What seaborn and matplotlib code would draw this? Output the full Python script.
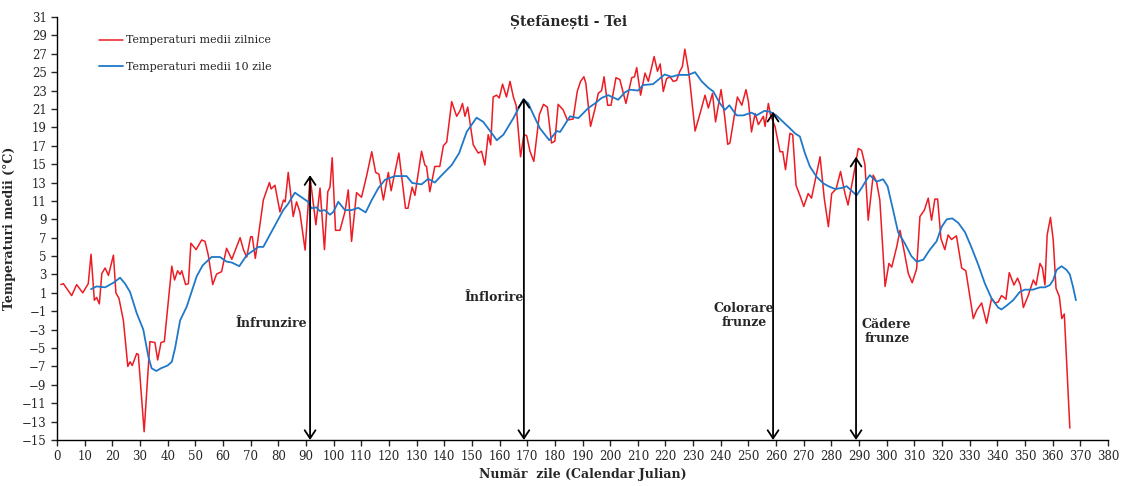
import pandas as pd
import matplotlib.pyplot as plt
import seaborn as sns

# Temperaturi medii zilnice (zi, °C)
zile_zilnic = [1.4, 2.3, 5.3, 7.1, 9.3, 11.3, 12.3, 13.5, 14.3, 15.3, 16.2, 17.4, 18.6, 20.4, 21.3,
               22.4, 24.0, 25.6, 26.4, 27.2, 28.8, 29.4, 31.5, 33.6, 35.4, 36.4, 37.6, 38.8, 41.5,
               42.5, 43.6, 44.5, 45.1, 46.5, 47.5, 48.4, 50.3, 52.3, 53.5, 54.7, 56.3, 57.7, 59.5,
               61.3, 63.2, 66.2, 67.4, 68.6, 70.0, 70.6, 71.7, 74.6, 76.8, 77.4, 78.8, 80.6, 81.9,
               82.5, 83.6, 85.4, 86.6, 87.8, 89.7, 91.5, 93.6, 95.1, 96.7, 97.9, 98.7, 99.5, 100.7,
               102.3, 104.1, 105.3, 106.5, 108.3, 110.1, 112.0, 113.8, 115.2, 116.4, 118.0, 119.8,
               120.8, 123.6, 126.0, 126.9, 128.4, 129.4, 131.8, 133.0, 133.6, 134.8, 136.6, 138.4,
               139.7, 140.9, 142.7, 144.5, 145.7, 146.6, 147.5, 148.5, 150.5, 152.3, 153.5, 154.7,
               155.9, 156.8, 157.7, 158.9, 159.9, 161.1, 162.5, 163.8, 165.0, 166.0, 167.6, 168.8,
               169.8, 171.0, 172.4, 174.4, 175.9, 177.3, 178.8, 180.0, 181.2, 183.0, 184.5, 186.6,
               188.1, 189.3, 190.5, 191.2, 192.9, 194.5, 195.7, 196.9, 197.8, 199.1, 200.3, 202.1,
               203.5, 205.7, 207.8, 208.8, 209.6, 211.0, 212.6, 213.8, 215.9, 217.1, 218.1, 219.2,
               220.4, 221.6, 222.8, 224.0, 225.2, 226.1, 227.0, 228.2, 228.8, 230.7, 232.5, 234.3,
               235.5, 237.0, 238.1, 240.1, 241.4, 242.5, 243.3, 244.5, 246.0, 247.6, 249.1, 250.0,
               251.1, 252.4, 253.6, 255.4, 256.0, 257.2, 258.0, 259.6, 261.4, 262.4, 263.4, 265.0,
               266.0, 267.2, 268.6, 270.0, 271.6, 272.8, 274.4, 275.9, 277.4, 278.9, 280.1, 281.7,
               283.3, 284.9, 286.0, 287.9, 289.7, 290.9, 292.1, 293.3, 295.1, 296.3, 297.5, 299.4,
               300.8, 301.8, 303.6, 304.8, 306.0, 307.8, 309.2, 310.8, 312.0, 313.6, 315.0, 316.2,
               317.4, 318.4, 319.6, 321.0, 322.2, 323.4, 325.2, 327.1, 328.6, 331.3, 332.5, 334.3,
               336.1, 337.9, 339.1, 340.3, 341.5, 342.4, 343.1, 344.3, 346.0, 347.3, 348.3, 349.4,
               351.2, 353.0, 354.0, 355.4, 356.3, 357.2, 358.0, 359.2, 360.2, 361.2, 362.4, 363.3,
               364.2, 366.2]
temp_zilnic = [1.9, 2.0, 0.7, 1.9, 1.0, 2.0, 5.2, 0.2, 0.5, -0.2, 3.1, 3.7, 2.9, 5.1, 1.0,
               0.4, -2.0, -7.0, -6.5, -6.9, -5.6, -5.7, -14.1, -4.3, -4.4, -6.3, -4.4, -4.3, 3.9,
               2.4, 3.4, 3.0, 3.4, 1.9, 2.0, 6.4, 5.7, 6.75, 6.6, 5.1, 1.9, 3.05, 3.3,
               5.85, 4.65, 7.0, 5.7, 4.9, 7.1, 7.1, 4.75, 11.1, 13.0, 12.3, 12.7, 9.8, 11.1,
               10.9, 14.1, 9.3, 10.9, 9.8, 5.65, 13.6, 8.4, 12.4, 5.7, 12.0, 12.5, 15.7, 7.8,
               7.8, 9.8, 12.2, 6.6, 11.9, 11.4, 13.8, 16.35, 14.1, 13.9, 11.1, 14.1,
               12.1, 16.2, 10.2, 10.2, 12.5, 11.6, 16.4, 14.9, 14.75, 12.0, 14.75, 14.75,
               17.0, 17.4, 21.8, 20.2, 20.8, 21.6, 20.2, 21.2, 17.1, 16.2, 16.4, 14.9,
               18.2, 17.1, 22.3, 22.5, 22.2, 23.7, 22.3, 24.0, 22.3, 21.4, 15.8, 18.2,
               18.1, 16.4, 15.3, 20.4, 21.5, 21.2, 17.3, 17.5, 21.5, 20.9, 19.8, 19.9,
               22.9, 24.0, 24.5, 23.8, 19.1, 21.0, 22.7, 23.0, 24.5, 21.4, 21.4, 24.4,
               24.2, 21.6, 24.4, 24.5, 25.5, 22.5, 24.9, 24.0, 26.7, 25.1, 25.9, 22.9,
               24.3, 24.5, 24.0, 24.1, 25.1, 25.6, 27.5, 25.4, 24.0, 18.6, 20.5, 22.5,
               21.1, 22.7, 19.6, 23.1, 20.2, 17.15, 17.3, 19.5, 22.3, 21.4, 23.1, 21.8,
               18.5, 20.5, 19.3, 20.2, 19.1, 21.6, 20.3, 19.1, 16.35, 16.35, 14.4, 18.35,
               18.2, 12.7, 11.6, 10.4, 11.8, 11.3, 13.6, 15.8, 11.3, 8.2, 11.8, 12.3,
               14.2, 11.8, 10.55, 13.6, 16.7, 16.5, 15.0, 8.9, 13.8, 13.1, 11.1, 1.7,
               4.2, 3.8, 6.0, 7.8, 6.0, 3.1, 2.1, 3.6, 9.3, 10.0, 11.3, 8.9,
               11.2, 11.2, 6.9, 5.7, 7.3, 6.8, 7.2, 3.7, 3.4, -1.8, -0.9, -0.1,
               -2.3, 0.4, -0.1, 0.0, 0.7, 0.5, 0.3, 3.2, 1.85, 2.6, 1.85, -0.6,
               0.75, 2.4, 1.85, 4.2, 3.7, 1.85, 7.3, 9.2, 6.75, 1.5, 0.6, -1.8,
               -1.3, -13.7]

# Temperaturi medii pe 10 zile
zile_10 = [12.3, 14.3, 17.4, 20.4, 22.8, 24.6, 26.4, 28.8, 31.2, 33.0, 34.2, 35.9, 37.6, 40.0,
           41.5, 42.7, 44.5, 46.9, 48.1, 50.5, 52.7, 55.9, 58.9, 61.3, 63.2, 65.9, 68.6, 72.8,
           74.6, 78.2, 81.8, 83.6, 86.0, 88.4, 90.8, 92.0, 93.8, 95.0, 96.8, 98.7, 99.9, 101.7,
           104.1, 106.5, 108.9, 111.6, 113.8, 116.2, 118.6, 122.2, 126.4, 128.4, 131.8, 134.2,
           136.6, 139.1, 142.7, 145.4, 148.1, 151.7, 154.1, 157.1, 159.0, 161.4, 165.0, 168.6,
           170.4, 172.2, 174.6, 178.0, 180.7, 181.9, 185.5, 188.5, 192.1, 194.5, 196.9, 199.3,
           202.9, 205.3, 207.1, 210.1, 211.9, 215.5, 217.9, 219.7, 222.2, 224.6, 228.2, 230.7,
           233.1, 235.5, 237.3, 239.7, 241.5, 243.1, 245.7, 248.1, 251.1, 252.9, 255.8, 257.7,
           260.1, 262.5, 265.0, 266.8, 268.6, 270.4, 272.2, 274.7, 277.1, 278.9, 281.3, 283.7,
           285.5, 287.3, 289.1, 290.9, 292.7, 293.9, 296.3, 298.7, 300.3, 302.3, 304.1, 306.5,
           308.9, 310.8, 313.2, 315.6, 318.0, 319.9, 321.7, 323.7, 325.9, 328.3, 330.7, 333.1,
           335.5, 337.9, 340.3, 341.5, 343.3, 345.7, 348.1, 349.9, 352.9, 355.4, 357.2, 359.0,
           360.2, 361.4, 363.2, 365.0, 366.2, 367.4, 368.4]
temp_10 = [1.4, 1.7, 1.6, 2.1, 2.65, 2.0, 1.1, -1.2, -3.0, -5.9, -7.2, -7.5, -7.2, -6.9,
           -6.5, -5.0, -2.0, -0.5, 0.6, 2.8, 4.0, 4.9, 4.9, 4.4, 4.3, 3.9, 5.1, 6.0,
           6.0, 8.0, 10.0, 10.7, 11.9, 11.4, 10.9, 10.2, 10.3, 9.9, 10.0, 9.5, 9.8, 10.9,
           10.0, 10.0, 10.25, 9.75, 11.1, 12.4, 13.3, 13.7, 13.7, 12.95, 12.8, 13.4,
           13.0, 13.8, 14.9, 16.2, 18.5, 20.05, 19.6, 18.4, 17.6, 18.2, 20.0, 22.05,
           21.6, 20.4, 18.9, 17.6, 18.6, 18.5, 20.2, 20.0, 21.1, 21.6, 22.2, 22.5,
           22.0, 22.8, 23.1, 23.0, 23.6, 23.7, 24.3, 24.75, 24.5, 24.7, 24.7, 25.0,
           24.0, 23.3, 22.9, 21.6, 20.9, 21.4, 20.3, 20.3, 20.6, 20.3, 20.8, 20.7,
           20.3, 19.6, 18.9, 18.35, 18.0, 16.2, 14.75, 13.6, 12.9, 12.6, 12.3, 12.4,
           12.6, 12.1, 11.6, 12.4, 13.3, 13.8, 13.1, 13.35, 12.6, 10.0, 7.6, 6.4,
           5.0, 4.4, 4.6, 5.7, 6.6, 8.2, 9.0, 9.1, 8.6, 7.6, 5.9, 4.05,
           2.0, 0.4, -0.6, -0.8, -0.4, 0.2, 1.1, 1.35, 1.35, 1.6, 1.6, 1.85,
           2.4, 3.5, 3.9, 3.5, 3.0, 1.6, 0.2]

# Fenofaze: ziua, varful sagetii, eticheta, pozitia etichetei
fenofaze_zi = [91.5, 168.8, 258.9, 288.9]
fenofaze_top = [13.8, 22.2, 20.7, 15.8]
fenofaze_text = ['Înfrunzire', 'Înflorire', 'Colorare\nfrunze', 'Cădere\nfrunze']
fenofaze_xy = [(77.5, -2.3), (158, 0.5), (248.5, -1.5), (300, -3.2)]

df_zilnic = pd.DataFrame({'Zi': zile_zilnic, 'Temp': temp_zilnic})
df_10 = pd.DataFrame({'Zi': zile_10, 'Temp': temp_10})

sns.set_style('ticks')
plt.rcParams['font.family'] = ['DejaVu Serif']

fig = plt.figure(figsize=(11.29, 4.86), dpi=100)
ax = fig.add_axes([0.0505, 0.0947, 0.9309, 0.8703])

sns.lineplot(x='Zi', y='Temp', data=df_zilnic, color='#ED1C24', lw=1.1,
             label='Temperaturi medii zilnice', ax=ax)
sns.lineplot(x='Zi', y='Temp', data=df_10, color='#1F78C8', lw=1.3,
             label='Temperaturi medii 10 zile', ax=ax)

for zi, top, txt, (tx, ty) in zip(fenofaze_zi, fenofaze_top, fenofaze_text, fenofaze_xy):
    ax.annotate('', xy=(zi, top), xytext=(zi, -15),
                arrowprops=dict(arrowstyle='<->,head_length=0.45,head_width=0.3',
                                color='black', lw=1.3, mutation_scale=13,
                                shrinkA=0, shrinkB=0))
    ax.text(tx, ty, txt, ha='center', va='center', fontsize=9,
            fontweight='bold', linespacing=1.1)

ax.text(185, 30.5, 'Ștefănești - Tei', ha='center', va='center',
        fontsize=10, fontweight='bold')

ax.set_xlim(0, 380)
ax.set_ylim(-15, 31)
ax.set_xticks(range(0, 381, 10))
ax.set_yticks(range(-15, 32, 2))
ax.tick_params(labelsize=8.5, direction='out', length=4, width=1)
ax.set_xlabel('Număr  zile (Calendar Julian)', fontsize=9, fontweight='bold', labelpad=3)
ax.set_ylabel('Temperaturi medii (°C)', fontsize=9, fontweight='bold', labelpad=4)
for s in ['top', 'right']:
    ax.spines[s].set_visible(False)
for s in ['left', 'bottom']:
    ax.spines[s].set_color('black')
    ax.spines[s].set_linewidth(1)

ax.legend(loc='upper left', bbox_to_anchor=(0.03, 0.98), frameon=False,
          fontsize=8, handlelength=2.2, labelspacing=1.5, handletextpad=0.3)

fig.savefig('out.png', dpi=100)
